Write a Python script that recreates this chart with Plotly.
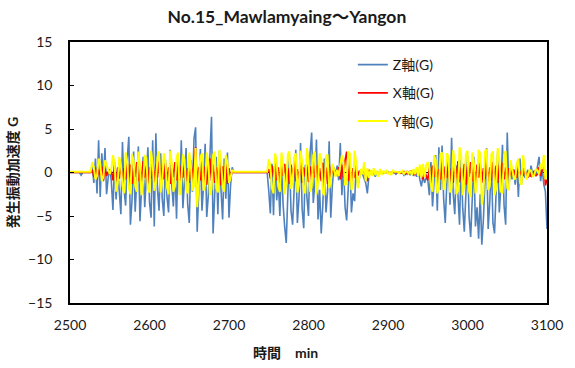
import numpy as np
import plotly.graph_objects as go

# Sampling grid: one reading every 2 minutes
MINUTES = np.arange(2500, 3101, 2)

# Z axis acceleration (G)
Z_AXIS = [
    0, 0, 0, 0, 0, 0, 0, -0.3, 0, 0, 0, 0, 0, 0,                      # 2500-2526
    0.8, -1.2, 1.6, -2.4, 3.7, -2.8, 2.2, -1.0, 2.8, -2.5,            # 2528-2546
    -0.6, 0.4, -1.0,                                                  # 2548-2552
    -4.3, 1.2, -3.1, 0.5, -2.6, -4.8, 3.5, -2.0, -3.8, 1.6, 4.1, -6.0,  # 2554-2576
    -3.2, 2.4, -4.5, -1.2, 3.0, -5.6, -2.5, 1.8, -4.0, -0.8, 2.9, -3.4, -5.2, 3.7,  # 2578-2604
    -6.2, 4.5, -1.8, -4.4, 2.2, -3.0, -5.0, 1.5, -2.8, -4.6,          # 2606-2624
    2.6, -1.4, -3.9, 0.8, -5.3, 1.9, -2.4, 3.7, -4.1, -1.0,           # 2626-2644
    2.8, -3.6, -5.8, 1.4, -2.2, 3.9, 5.2, -6.8, -2.0, 2.7,            # 2646-2664
    -4.4, -1.5, 3.3, -5.1, -2.6, 2.1, 6.4, -7.0, -3.3, 1.8,           # 2666-2684
    -4.8, 2.5, -2.1, -5.4, 1.6, -3.0, 2.3, -5.2, -1.4, 0.6,           # 2686-2704
    0, 0, 0, 0, 0, 0, 0, 0, 0, 0, 0, 0, 0, 0, 0, 0, 0, 0, 0, 0, 0, 0,  # 2706-2748
    -2.1, -4.7, 1.0, -4.9, 2.0, -3.2, -1.0, -5.0, 1.5, -3.6,          # 2750-2768
    -6.2, -8.1, -2.5, 1.8, -4.4, -6.0, -1.8, 2.6, -5.8, -3.0,         # 2770-2788
    3.4, -4.2, -6.4, 0.9, -2.8, -5.0, 2.2, 4.6, -3.5, -1.2,           # 2790-2808
    3.8, -5.4, -2.0, -7.0, -3.8, 1.6, -4.6, -2.2, 3.6, -5.2,          # 2810-2828
    -1.5, 0.6, -0.4, 0.8, -0.9, 3.4, -2.6, 1.2, -4.0, -5.5,           # 2830-2848
    -1.8, 2.0, -4.6, -2.4, -3.3, 0.9, -1.6, -0.5, 0.3, -0.2,          # 2850-2868
    -0.6, -1.2, -2.4, -0.4, 0.2, -0.3, 0, -0.5, 0.1, -0.2,            # 2870-2888
    0, 0, -0.1, 0, 0, 0.1, 0, 0, 0, 0,                                # 2890-2908
    -0.2, 0, 0, 0, 0, -0.3, 0, -0.2, 0.1, -0.3,                       # 2910-2928
    0.2, -0.4, 0.3, -0.5, 0.4, -0.8, -1.6, -0.4, -1.2, -0.6,          # 2930-2948
    -0.8, -2.6, 1.2, -3.9, -1.5, 2.0, -4.4, 2.9, -2.0, 3.1,           # 2950-2968
    -3.0, -5.8, -1.2, 1.8, -3.7, 4.0, -2.4, -4.8, 0.8, -3.2,          # 2970-2988
    -6.0, 1.5, -4.1, -6.8, -2.2, 2.0, -5.1, -7.4, -3.0, 1.8,          # 2990-3008
    -6.2, -4.0, -7.6, -2.5, -8.3, -5.4, -1.0, 2.8, -6.5, -3.4,        # 3010-3028
    1.4, -5.8, -7.0, -2.2, 2.4, -4.6, -1.6, 3.2, -3.8, -6.0,          # 3030-3048
    4.6, -1.8, 0.6, -0.8, 0.4, -1.4, 1.0, -2.8, 1.6, -1.2,            # 3050-3068
    0.5, -0.6, -0.2, 0.3, -0.5, 0.8, -0.3, 0.2, -0.4, 0.6,            # 3070-3088
    1.8, -1.0, 0.4, -1.4, -2.2, -6.5,                                 # 3090-3100
]

# X axis acceleration (G)
X_AXIS = [
    0, 0, 0, 0, 0, 0, 0, 0, 0, 0, 0, 0, 0, 0,                         # 2500-2526
    0.3, -0.5, 0.6, -0.8, 0.4, -0.3, 0.7, -0.9, 0.5, -0.4,            # 2528-2546
    0.1, -0.2, 0.2,                                                   # 2548-2552
    -0.9, 0.8, -1.1, 0.6, -0.7, 1.0, -1.2, 0.5, -0.8, 1.1, -0.6, 0.9,  # 2554-2576
    -1.3, 0.7, -0.5, 1.2, -1.0, 0.4, -0.9, 1.3, -0.6, 0.8, -1.4, 0.6, -0.7, 1.0,  # 2578-2604
    -1.1, 0.9, -0.6, 1.4, -1.2, 0.5, -0.8, 1.1, -1.0, 0.6,            # 2606-2624
    -1.3, 0.9, -0.5, 1.2, -0.9, 0.7, -1.1, 0.8, -0.6, 1.3,            # 2626-2644
    -1.0, 0.5, -1.2, 0.9, -0.7, 1.5, 2.9, -1.3, 0.6, -0.9,            # 2646-2664
    1.2, -1.1, 0.7, -1.4, 0.8, 1.6, -1.0, 0.9, -1.2, 0.6,             # 2666-2684
    -0.8, 1.3, -1.5, 0.7, -0.9, 1.1, -1.3, 0.5, -0.6, 0.2,            # 2686-2704
    0, 0, 0, 0, 0, 0, 0, 0, 0, 0, 0, 0, 0, 0, 0, 0, 0, 0, 0, 0, 0, 0,  # 2706-2748
    0.4, -0.7, 0.8, -0.5, 1.1, -0.9, 0.6, -1.2, 0.7, -0.4,            # 2750-2768
    1.0, -1.1, 0.5, -1.3, 0.9, -0.6, 1.2, -1.0, 0.4, -0.8,            # 2770-2788
    1.1, -1.2, 0.6, -0.5, 0.9, -1.1, 0.7, -0.9, 1.3, -0.6,            # 2790-2808
    0.8, -1.2, 0.5, -1.0, 1.1, -0.7, 0.6, -1.3, 0.9, -0.5,            # 2810-2828
    0.3, -0.2, 0.2, -0.3, 0.6, -0.8, 0.9, -0.6, 1.4, 2.4,             # 2830-2848
    -1.0, 0.7, -1.2, 0.5, -0.6, 0.3, -0.4, 0.2, -0.1, 0.1,            # 2850-2868
    0.2, -0.6, -1.0, 0.3, -0.2, 0.1, 0, -0.1, 0, 0,                   # 2870-2888
    0, 0, 0, 0, 0, 0, 0, 0, 0, 0,                                     # 2890-2908
    0, 0, 0, -0.1, 0, 0.1, -0.2, 0.1, -0.1, 0.2,                      # 2910-2928
    -0.2, 0.1, -0.3, 0.2, -0.2, 0.3, -0.4, -0.8, 0.2, -0.5,           # 2930-2948
    -0.9, 0.6, -1.2, 0.8, -0.5, 1.0, -1.1, 0.4, -0.8, 1.2,            # 2950-2968
    -1.3, 0.7, -0.6, 1.1, -1.0, 0.5, -1.2, 0.9, -0.7, 1.3,            # 2970-2988
    -1.1, 0.6, -0.9, 1.0, -1.4, 0.8, -0.5, 1.2, -1.0, 0.7,            # 2990-3008
    -1.3, 0.9, -0.6, 1.1, -1.2, 0.5, -0.8, 1.0, -1.1, 0.6,            # 3010-3028
    -0.9, 1.2, -1.0, 0.8, -1.2, 0.9, -0.7, 1.1, -0.8, 0.6,            # 3030-3048
    -0.9, 0.5, -0.3, 0.2, -0.4, 0.3, -0.6, 0.5, -0.3, 0.2,            # 3050-3068
    -0.4, 0.2, -0.3, -0.6, 0.1, -0.5, -0.3, 0.2, -0.4, -0.2,          # 3070-3088
    0.6, -0.4, 0.3, 1.6, -1.5, -0.8,                                  # 3090-3100
]

# Y axis acceleration (G)
Y_AXIS = [
    0.1, 0.1, 0.1, 0.1, 0.1, 0.1, 0.1, 0.1, 0.1, 0.1, 0.1, 0.1, 0.1, 0.1,  # 2500-2526
    1.2, 0.6, -0.8, -0.4, 1.6, 1.0, -1.0, -0.5, 1.4, 0.8,             # 2528-2546
    0.3, -0.2, 0.4,                                                   # 2548-2552
    2.0, 1.1, -2.2, -1.3, 1.8, 0.9, -1.5, -2.4, 2.3, 1.2, -1.8, -2.5,  # 2554-2576
    2.1, 1.4, -1.6, -2.2, 2.4, 0.8, -2.6, -1.1, 2.0, 1.7, -1.9, -2.3, 2.5, 1.0,  # 2578-2604
    -2.1, -1.2, 1.8, 2.4, -2.3, -0.9, 2.2, 1.3, -1.7, -2.5,           # 2606-2624
    2.5, 1.1, -2.2, -1.6, 1.7, 2.3, -2.6, -1.0, 2.1, 1.5,             # 2626-2644
    -1.9, -2.4, 2.3, 0.9, -2.1, -1.5, 2.8, -4.0, -1.6, 1.8,           # 2646-2664
    2.2, -2.1, -1.4, 2.3, 1.2, -2.6, -1.9, 2.0, 2.4, -1.8,            # 2666-2684
    -2.3, 2.6, 1.4, -1.6, -2.2, 2.0, 1.2, -1.2, -0.6, 0.3,            # 2686-2704
    0.1, 0.1, 0.1, 0.1, 0.1, 0.1, 0.1, 0.1, 0.1, 0.1, 0.1,
    0.1, 0.1, 0.1, 0.1, 0.1, 0.1, 0.1, 0.1, 0.1, 0.1, 0.1,            # 2706-2748
    1.5, 0.8, -1.8, -2.4, 2.2, 1.3, -1.6, -2.2, 2.3, 1.0,             # 2750-2768
    -2.5, -1.3, 2.1, 2.4, -1.9, -1.1, 1.7, 2.2, -2.3, -1.4,           # 2770-2788
    2.5, 1.2, -2.0, -2.4, 2.8, 1.5, -2.2, -1.7, 2.0, 2.4,             # 2790-2808
    -2.5, -1.2, 2.2, 1.6, -2.3, -2.6, 1.8, 2.1, -1.8, -1.1,           # 2810-2828
    1.0, 0.4, -0.5, 0.3, -0.4, 0.6, 2.0, 1.2, -1.5, -1.2,             # 2830-2848
    2.4, 2.2, -2.0, -1.4, 2.5, 1.1, -1.8, -0.6, 0.4, -0.2,            # 2850-2868
    1.2, -1.0, 0.5, -0.6, 0.3, -0.4, 0.5, -0.3, 0.2, -0.5,            # 2870-2888
    0.4, -0.3, 0.2, -0.1, 0.3, -0.2, 0.1, -0.3, 0.2, 0.1,             # 2890-2908
    0.1, 0.1, -0.1, 0.1, 0.2, -0.2, 0.1, 0.1, -0.1, 0.2,              # 2910-2928
    -0.3, 0.4, -0.2, 0.6, -0.4, 0.9, -0.6, 1.0, -0.5, 0.8,            # 2930-2948
    1.2, 0.6, -1.5, -2.2, 2.0, 1.4, -2.4, -1.6, 2.1, 2.3,             # 2950-2968
    -2.0, -1.2, 2.2, 1.9, -2.3, -1.8, 2.6, 1.1, -2.5, -2.1,           # 2970-2988
    2.9, 2.0, -2.6, -1.4, 2.1, 2.5, -2.2, -2.8, 2.3, 1.2,             # 2990-3008
    -2.4, -1.5, 2.6, 2.2, -3.7, -2.5, 2.4, 2.7, -2.0, -1.6,           # 3010-3028
    2.1, 2.4, -2.6, -1.9, 2.8, 1.5, -2.2, -2.4, 2.0, 2.5,             # 3030-3048
    -1.8, -2.0, 1.4, 0.5, -0.6, -0.8, 1.0, 1.6, -1.2, -1.4,           # 3050-3068
    2.0, 0.6, -0.8, -0.4, 0.3, 0.2, -0.5, -0.3, 0.4, 0.2,             # 3070-3088
    -0.2, 1.0, 0.4, 2.0, -0.8, 0.3,                                   # 3090-3100
]

SERIES_NAMES = ["Z軸(G)", "X軸(G)", "Y軸(G)"]
SERIES_COLORS = ["#4F81BD", "#FF0000", "#FFFF00"]
SERIES_WIDTHS = [1.6, 1.6, 2.0]

X_TICKS = [2500, 2600, 2700, 2800, 2900, 3000, 3100]
Y_TICKS = [-15, -10, -5, 0, 5, 10, 15]

for arr in (Z_AXIS, X_AXIS, Y_AXIS):
    assert len(arr) == len(MINUTES), len(arr)

FONT = "Lato, 'Noto Sans CJK JP', sans-serif"
TEXT = "#1a1a1a"

fig = go.Figure()
for i, (vals, name, color, width) in enumerate(
        zip((Z_AXIS, X_AXIS, Y_AXIS), SERIES_NAMES, SERIES_COLORS, SERIES_WIDTHS)):
    fig.add_trace(go.Scatter(
        x=MINUTES, y=vals, mode="lines", name=name,
        line=dict(color=color, width=width),
        legendgroup=f"g{i}",
    ))

fig.update_layout(
    width=575, height=368,
    margin=dict(l=69, r=22, t=42, b=65),
    paper_bgcolor="white", plot_bgcolor="white",
    font=dict(family=FONT, size=14, color=TEXT),
    title=dict(
        text="<b>No.15_Mawlamyaing～Yangon</b>",
        x=0.499, xanchor="center", y=0.954, yanchor="middle",
        font=dict(family=FONT, size=17.5, color=TEXT),
    ),
    showlegend=True,
    legend=dict(
        x=0.593, y=0.973, xanchor="left", yanchor="top",
        bgcolor="rgba(0,0,0,0)", font=dict(family=FONT, size=14, color=TEXT),
        tracegroupgap=7, itemwidth=30,
    ),
    xaxis=dict(
        range=[2500, 3100], tickvals=X_TICKS, ticks="", showgrid=False,
        zeroline=False, showline=True, linecolor="black", linewidth=1.5,
        mirror=True, ticklabelstandoff=8,
        tickfont=dict(family=FONT, size=14, color=TEXT),
    ),
    yaxis=dict(
        range=[-15, 15], tickvals=Y_TICKS, ticks="inside", ticklen=4,
        tickcolor="black", showgrid=False,
        zeroline=True, zerolinecolor="black", zerolinewidth=1.2,
        showline=True, linecolor="black", linewidth=1.5, mirror=True,
        ticklabelstandoff=13,
        tickfont=dict(family=FONT, size=14, color=TEXT),
        title=dict(text="<b>発生振動加速度 G</b>", standoff=6,
                   font=dict(family=FONT, size=14, color=TEXT)),
    ),
    annotations=[dict(
        text="<b>時間　min</b>", xref="paper", yref="paper",
        x=0.4525, y=-0.188, xanchor="center", yanchor="middle",
        showarrow=False, font=dict(family=FONT, size=14, color=TEXT),
    )],
)

fig.write_html("out.html")
